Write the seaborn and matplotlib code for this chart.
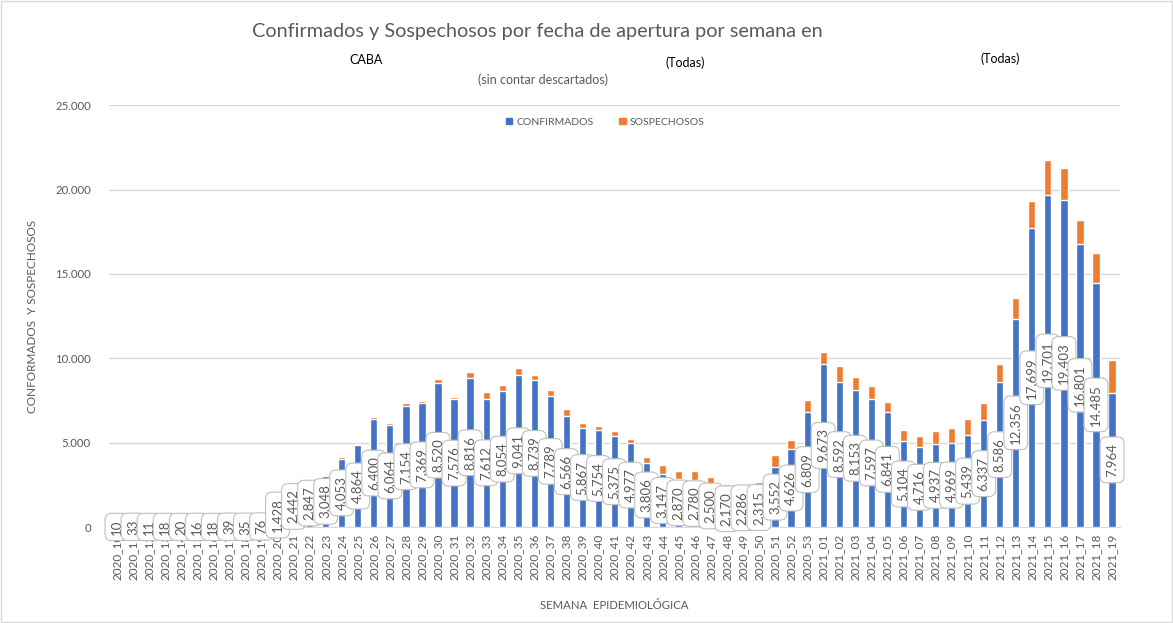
import seaborn as sns
import matplotlib.pyplot as plt
import pandas as pd
from matplotlib.patches import Patch, Rectangle

semanas = ["2020_%02d" % s for s in range(10, 54)] + ["2021_%02d" % s for s in range(1, 20)]

confirmados = [10, 33, 11, 18, 20, 16, 18, 39, 35, 76, 1428, 2442, 2847, 3048, 4053, 4864,
               6400, 6064, 7154, 7369, 8520, 7576, 8816, 7612, 8054, 9041, 8739, 7789, 6566,
               5867, 5754, 5375, 4977, 3806, 3147, 2870, 2780, 2500, 2170, 2286, 2315, 3552,
               4626, 6809, 9673, 8592, 8153, 7597, 6841, 5104, 4716, 4937, 4969, 5439, 6337,
               8586, 12356, 17699, 19701, 19403, 16801, 14485, 7964]

sospechosos = [2, 5, 3, 4, 4, 3, 4, 6, 6, 10, 30, 40, 40, 50, 80, 40,
               120, 80, 180, 80, 240, 160, 360, 420, 360, 360, 280, 340, 420,
               300, 240, 300, 220, 340, 560, 480, 520, 480, 380, 280, 360, 740,
               560, 700, 700, 940, 760, 760, 580, 660, 700, 760, 880, 940, 1000,
               1060, 1240, 1600, 2070, 1900, 1400, 1780, 1940]

df = pd.DataFrame({"semana": semanas, "conf": confirmados, "sosp": sospechosos})
df["total"] = df["conf"] + df["sosp"]

azul = "#4472C4"
naranja = "#ED7D31"
gris = "#595959"

sns.set_style("white")
plt.rcParams["font.family"] = ["Lato", "DejaVu Sans"]

fig = plt.figure(figsize=(11.73, 6.23), dpi=100)
ax = fig.add_axes([0.0929, 0.154, 0.862, 0.677])

sns.barplot(data=df, x="semana", y="total", color=naranja, width=0.45, saturation=1, ax=ax, zorder=2)
sns.barplot(data=df, x="semana", y="conf", color=azul, width=0.45, saturation=1, ax=ax, zorder=3)

ax.set_ylim(0, 25000)
ax.set_xlim(-0.5, len(df) - 0.5)
ax.set_yticks(range(0, 25001, 5000))
ax.set_yticklabels(["0" if v == 0 else f"{v:,}".replace(",", ".") for v in range(0, 25001, 5000)],
                   color=gris, fontsize=8.2)
ax.yaxis.grid(True, color="#D9D9D9", linewidth=1, zorder=0)
ax.set_axisbelow(True)
ax.tick_params(axis="y", length=0, pad=13)
ax.tick_params(axis="x", length=0, pad=5)
plt.setp(ax.get_xticklabels(), rotation=90, fontsize=8.5, color=gris)
for s in ["top", "right", "left"]:
    ax.spines[s].set_visible(False)
ax.spines["bottom"].set_color("#D9D9D9")

ax.set_xlabel("SEMANA  EPIDEMIOLÓGICA", fontsize=8.2, color=gris, labelpad=14)
ax.set_ylabel("CONFORMADOS  Y SOSPECHOSOS", fontsize=8.5, color=gris, labelpad=12)

# etiquetas de datos
for i, v in enumerate(df["conf"]):
    ax.text(i, v / 2, f"{v:,}".replace(",", "."), rotation=90, ha="center", va="center",
            fontsize=9.5, color=gris, zorder=5, clip_on=False,
            bbox=dict(boxstyle="round,pad=0.45,rounding_size=0.5", fc="white", ec="#BFBFBF", lw=0.8))

fig.text(0.458, 0.949, "Confirmados y Sospechosos por fecha de apertura por semana en",
         ha="center", va="center", fontsize=14.3, color=gris)
fig.text(0.312, 0.904, "CABA", ha="center", va="center", fontsize=9, color="black")
fig.text(0.584, 0.900, "(Todas)", ha="center", va="center", fontsize=9, color="black")
fig.text(0.853, 0.905, "(Todas)", ha="center", va="center", fontsize=9, color="black")
fig.text(0.463, 0.872, "(sin contar descartados)", ha="center", va="center", fontsize=9, color=gris)

handles = [Patch(color=azul, label="CONFIRMADOS"), Patch(color=naranja, label="SOSPECHOSOS")]
leg = fig.legend(handles=handles, loc="center", bbox_to_anchor=(0.516, 0.804), ncol=2,
                 frameon=False, fontsize=7.5, handlelength=0.6, handleheight=0.6,
                 columnspacing=2.5, handletextpad=0.4)
for t in leg.get_texts():
    t.set_color(gris)

fig.patches.append(Rectangle((0.001, 0.001), 0.998, 0.998, transform=fig.transFigure,
                             fill=False, edgecolor="#D9D9D9", lw=1))

fig.savefig("out.png", dpi=100)
